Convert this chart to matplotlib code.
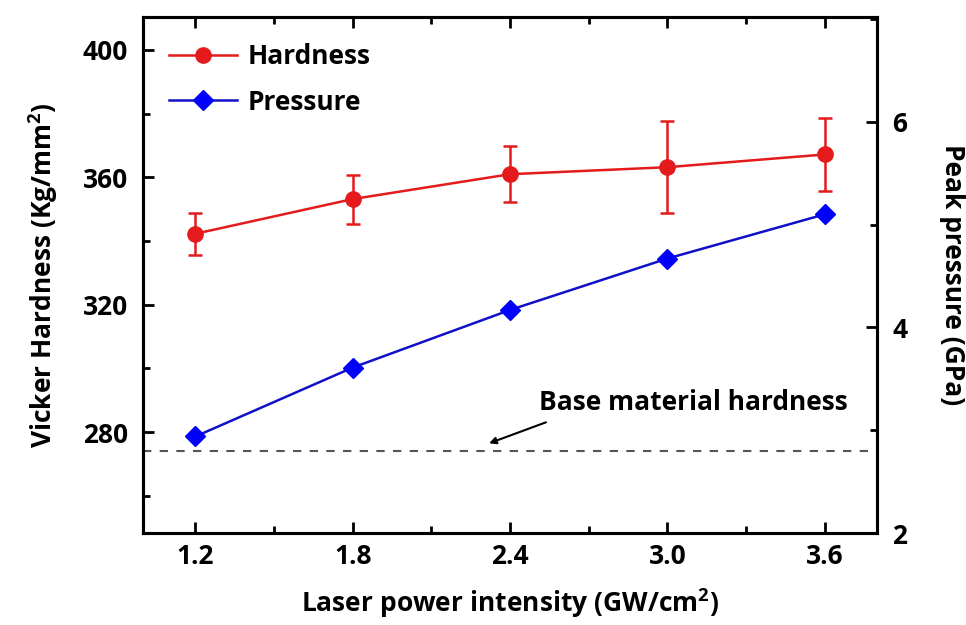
import matplotlib
matplotlib.use("Agg")
import matplotlib.pyplot as plt
from matplotlib.ticker import MultipleLocator
from matplotlib.lines import Line2D

plt.rcParams['font.family'] = ['Open Sans', 'DejaVu Sans']
plt.rcParams['font.weight'] = 'bold'
plt.rcParams['axes.labelweight'] = 'bold'
plt.rcParams['mathtext.fontset'] = 'custom'
plt.rcParams['mathtext.rm'] = 'Open Sans:bold'
plt.rcParams['mathtext.bf'] = 'Open Sans:bold'

intensity = [1.2, 1.8, 2.4, 3.0, 3.6]
hardness = [342.3, 353.2, 361.0, 363.2, 367.2]
hardness_err = [6.6, 7.7, 8.8, 14.4, 11.5]
pressure = [2.94, 3.61, 4.17, 4.67, 5.10]
base_hardness = 274.0

red = '#e41a1c'
blue = '#0000ff'
FS = 19

fig = plt.figure(figsize=(9.66, 6.25), dpi=100)
ax = fig.add_axes([0.148, 0.147, 0.760, 0.826])
ax2 = ax.twinx()

ax.errorbar(intensity, hardness, yerr=hardness_err, color=red, marker='o',
            markersize=11, lw=1.8, elinewidth=1.8, capsize=5, capthick=1.8, zorder=3)
ax.axhline(base_hardness, color='#555555', ls=(0, (4, 4)), lw=1.5)
ax2.plot(intensity, pressure, color='#1010c8', marker='D', markersize=10,
         markerfacecolor=blue, markeredgecolor=blue, lw=1.8)

ax.set_xlim(1.0, 3.8)
ax.set_ylim(248.3, 410.4)
ax2.set_ylim(2, 7.02)

ax.xaxis.set_minor_locator(MultipleLocator(0.3))
ax.yaxis.set_major_locator(MultipleLocator(40))
ax.yaxis.set_minor_locator(MultipleLocator(20))
ax2.yaxis.set_major_locator(MultipleLocator(2))
ax2.yaxis.set_minor_locator(MultipleLocator(1))
ax.set_xticks(intensity)
ax.set_xticklabels(['1.2', '1.8', '2.4', '3.0', '3.6'])

ax.tick_params(axis='x', which='both', direction='in', top=True, labelsize=FS, width=2, pad=7)
ax.tick_params(axis='x', which='major', length=8)
ax.tick_params(axis='x', which='minor', length=5)
ax.tick_params(axis='y', which='both', direction='in', labelsize=FS, width=2, pad=11)
ax.tick_params(axis='y', which='major', length=8)
ax.tick_params(axis='y', which='minor', length=5)
ax2.tick_params(axis='y', which='both', direction='in', labelsize=FS, width=2, pad=11)
ax2.tick_params(axis='y', which='major', length=8)
ax2.tick_params(axis='y', which='minor', length=5)

for s in list(ax.spines.values()) + list(ax2.spines.values()):
    s.set_linewidth(2.2)

ax.set_xlabel('Laser power intensity (GW/cm$^2$)', fontsize=FS, labelpad=12)
ax.set_ylabel('Vicker Hardness (Kg/mm$^2$)', fontsize=FS, labelpad=16)
ax2.set_ylabel('Peak pressure (GPa)', fontsize=FS, rotation=-90, labelpad=42)

ax.text(2.51, 285.1, 'Base material hardness', fontsize=FS, ha='left', va='bottom')
ax.annotate('', xy=(2.32, 276.5), xytext=(2.537, 283.1),
            arrowprops=dict(arrowstyle='-|>', color='black', lw=1.5, mutation_scale=10,
                            shrinkA=0, shrinkB=0))

handles = [Line2D([], [], color=red, marker='o', markersize=11, lw=1.8),
           Line2D([], [], color='#1010c8', marker='D', markersize=10,
                  markerfacecolor=blue, markeredgecolor=blue, lw=1.8)]
ax.legend(handles, ['Hardness', 'Pressure'], loc='upper left', fontsize=FS,
          frameon=False, handlelength=2.55, borderaxespad=0.6, labelspacing=0.7,
          handletextpad=0.4)

fig.savefig('out.png', dpi=100)
